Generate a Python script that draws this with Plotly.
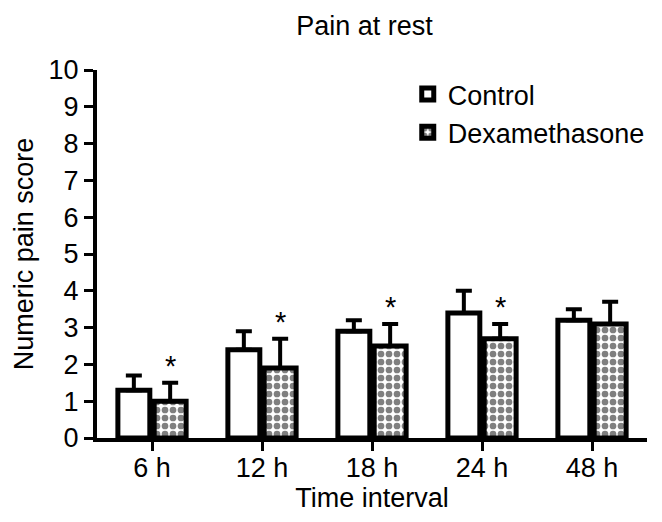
import plotly.graph_objects as go

categories = ["6 h", "12 h", "18 h", "24 h", "48 h"]
control_mean = [1.3, 2.4, 2.9, 3.4, 3.2]
control_err = [0.4, 0.5, 0.3, 0.6, 0.3]
dexa_mean = [1.0, 1.9, 2.5, 2.7, 3.1]
dexa_err = [0.5, 0.8, 0.6, 0.4, 0.6]
significant = [True, True, True, True, False]

FONT = "Liberation Sans, Arial, sans-serif"
FS = 27
# the page body adds an 8 px margin on the left and top
W, H = 654, 514
ML, MR, MT, MB = 89, 12, 62, 84
BARGAP, BARGROUPGAP = 0.34, 0.12

fig = go.Figure()
fig.add_trace(go.Bar(
    name="Control", x=categories, y=control_mean,
    marker=dict(color="white", line=dict(color="black", width=5)),
    error_y=dict(type="data", array=control_err, arrayminus=[0] * len(categories),
                 symmetric=False, color="black", thickness=4, width=8),
))
fig.add_trace(go.Bar(
    name="Dexamethasone", x=categories, y=dexa_mean,
    marker=dict(color="white", line=dict(color="black", width=5),
                pattern=dict(shape=".", fgcolor="black", bgcolor="white",
                             size=8, solidity=0.55, fillmode="overlay")),
    error_y=dict(type="data", array=dexa_err, arrayminus=[0] * len(categories),
                 symmetric=False, color="black", thickness=4, width=8),
))

# offset of the second bar's centre from the category centre, in pixels
plot_w = W - ML - MR
cat_w = plot_w / len(categories)
group_w = cat_w * (1 - BARGAP)
dx = group_w / 4

for c, m, e, s in zip(categories, dexa_mean, dexa_err, significant):
    if s:
        fig.add_annotation(x=c, y=m + e, xref="x", yref="y", text="*",
                           showarrow=False, xshift=dx, yshift=-1, yanchor="bottom",
                           font=dict(family=FONT, size=FS + 2, color="black"))

axis_common = dict(showline=True, linecolor="black", linewidth=4,
                   ticks="outside", tickwidth=3, tickcolor="black", ticklen=9,
                   showgrid=False, zeroline=False, automargin=False,
                   tickfont=dict(family=FONT, size=FS, color="black"))

fig.update_layout(
    width=W, height=H,
    margin=dict(l=ML, r=MR, t=MT, b=MB),
    paper_bgcolor="white", plot_bgcolor="white",
    barmode="group", bargap=BARGAP, bargroupgap=BARGROUPGAP,
    font=dict(family=FONT, color="black"),
    title=dict(text="Pain at rest", x=0.545, xanchor="center", y=0.985, yanchor="top",
               font=dict(family=FONT, size=FS, color="black")),
    legend=dict(x=0.565, y=1.0, xanchor="left", yanchor="top",
                font=dict(family=FONT, size=FS, color="black"),
                bgcolor="rgba(0,0,0,0)", tracegroupgap=0),
    xaxis=dict(**axis_common, range=[-0.5, len(categories) - 0.5],
               ticklabelstandoff=-6,
               title=dict(text="Time interval", font=dict(family=FONT, size=FS, color="black"),
                          standoff=2)),
    yaxis=dict(**axis_common, range=[0, 10], dtick=1,
               title=dict(text="Numeric pain score", font=dict(family=FONT, size=FS, color="black"),
                          standoff=8)),
)

fig.write_html("out.html")
